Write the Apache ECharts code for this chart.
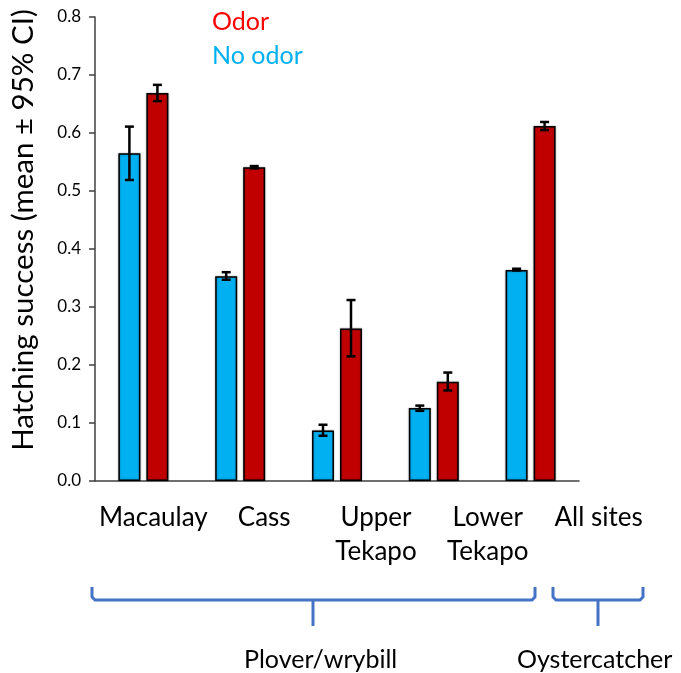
<!DOCTYPE html>
<html><head><meta charset="utf-8">
<script src="https://cdn.jsdelivr.net/npm/echarts@6/dist/echarts.min.js"></script>
<style>html,body{margin:0;padding:0;background:#fff}#c{width:681px;height:673px}</style>
</head><body><div id="c"></div>
<script>
const categories = ['Macaulay', 'Cass', 'Upper\nTekapo', 'Lower\nTekapo', 'All sites'];
const noOdor = [0.565, 0.353, 0.087, 0.126, 0.364];
const noOdorLow = [0.519, 0.347, 0.078, 0.121, 0.363];
const noOdorHigh = [0.611, 0.360, 0.097, 0.130, 0.366];
const odor = [0.669, 0.541, 0.263, 0.171, 0.612];
const odorLow = [0.655, 0.539, 0.215, 0.156, 0.605];
const odorHigh = [0.683, 0.543, 0.312, 0.187, 0.619];
const yTicks = [0, 0.1, 0.2, 0.3, 0.4, 0.5, 0.6, 0.7, 0.8];

const FONT = 'Lato';
const BAR_W = 22, GAP = 6;
const OFF = (BAR_W + GAP) / 2;
// label text boxes in the original sit to the right of the category centres
const labelShift = [10, 24, 39, 54, 68];

function errSeries(low, high, dx) {
  return {
    type: 'custom', z: 10, silent: true,
    data: low.map((l, i) => [i, l, high[i]]),
    renderItem: function (params, api) {
      const i = api.value(0);
      const p1 = api.coord([i, api.value(1)]);
      const p2 = api.coord([i, api.value(2)]);
      const x = p1[0] + dx;
      const hw = 4.5;
      const st = { stroke: '#000', lineWidth: 2.5 };
      return { type: 'group', children: [
        { type: 'line', shape: { x1: x, y1: p1[1], x2: x, y2: p2[1] }, style: st },
        { type: 'line', shape: { x1: x - hw, y1: p1[1], x2: x + hw, y2: p1[1] }, style: st },
        { type: 'line', shape: { x1: x - hw, y1: p2[1], x2: x + hw, y2: p2[1] }, style: st }
      ]};
    }
  };
}

const rich = {};
labelShift.forEach((s, i) => {
  rich['s' + i] = { fontSize: 26, fontFamily: FONT, color: '#000', lineHeight: 34, padding: [0, 0, 0, 2 * s] };
});

const chart = echarts.init(document.getElementById('c'), null, { renderer: 'canvas' });
const barStyle = (c) => ({ color: c, borderColor: '#000', borderWidth: 1.5, shadowColor: 'rgba(0,0,0,0.35)', shadowBlur: 2 });
const braceColor = '#4472C4';
chart.setOption({
  animation: false,
  textStyle: { fontFamily: FONT },
  grid: { left: 94, right: 102, top: 17, bottom: 192, containLabel: false },
  legend: {
    orient: 'vertical', left: 207, top: 4, itemGap: 9,
    icon: 'none', itemWidth: 0, itemHeight: 0,
    textStyle: { fontSize: 25, fontFamily: FONT, padding: [0, 0, 0, -5] },
    data: [
      { name: 'Odor', textStyle: { color: '#FF0000' } },
      { name: 'No odor', textStyle: { color: '#00B0F0' } }
    ]
  },
  xAxis: {
    type: 'category', data: categories,
    axisLine: { lineStyle: { color: '#404040', width: 1.5 } },
    axisTick: { show: false },
    axisLabel: {
      color: '#000', fontSize: 26, fontFamily: FONT, margin: 20, lineHeight: 34, interval: 0,
      formatter: (v, i) => v.split('\n').map(t => '{s' + i + '|' + t + '}').join('\n'),
      rich: rich
    }
  },
  yAxis: {
    type: 'value', min: 0, max: 0.8, interval: 0.1,
    name: 'Hatching success (mean ± 95% CI)', nameLocation: 'middle', nameGap: 57,
    nameTextStyle: { color: '#000', fontSize: 29.5, fontFamily: FONT, padding: [0, 0, 0, 38] },
    splitLine: { show: false },
    axisLine: { show: true, lineStyle: { color: '#404040', width: 1.5 } },
    axisTick: { show: true, length: 6, lineStyle: { color: '#404040', width: 1.5 } },
    axisLabel: { color: '#000', fontSize: 17, fontFamily: FONT, margin: 14,
      formatter: v => yTicks.includes(Math.round(v * 10) / 10) ? v.toFixed(1) : '' }
  },
  series: [
    { name: 'No odor', type: 'bar', data: noOdor, barWidth: BAR_W, barGap: (GAP / BAR_W * 100) + '%', itemStyle: barStyle('#00B0F0') },
    { name: 'Odor', type: 'bar', data: odor, barWidth: BAR_W, itemStyle: barStyle('#C00000') },
    errSeries(noOdorLow, noOdorHigh, -OFF),
    errSeries(odorLow, odorHigh, OFF)
  ],
  graphic: [
    { type: 'polyline', shape: { points: [[92,587],[92,597],[95,600],[532,600],[535,597],[535,587]] }, style: { stroke: braceColor, lineWidth: 3, fill: null } },
    { type: 'line', shape: { x1: 313, y1: 600, x2: 313, y2: 626 }, style: { stroke: braceColor, lineWidth: 3 } },
    { type: 'polyline', shape: { points: [[553,587],[553,597],[556,600],[640,600],[643,597],[643,587]] }, style: { stroke: braceColor, lineWidth: 3, fill: null } },
    { type: 'line', shape: { x1: 598, y1: 600, x2: 598, y2: 626 }, style: { stroke: braceColor, lineWidth: 3 } },
    { type: 'text', left: 244, top: 647, style: { text: 'Plover/wrybill', fontSize: 25, fontFamily: FONT, fill: '#000' } },
    { type: 'text', left: 517, top: 647, style: { text: 'Oystercatcher', fontSize: 25, fontFamily: FONT, fill: '#000' } }
  ]
});
</script></body></html>
